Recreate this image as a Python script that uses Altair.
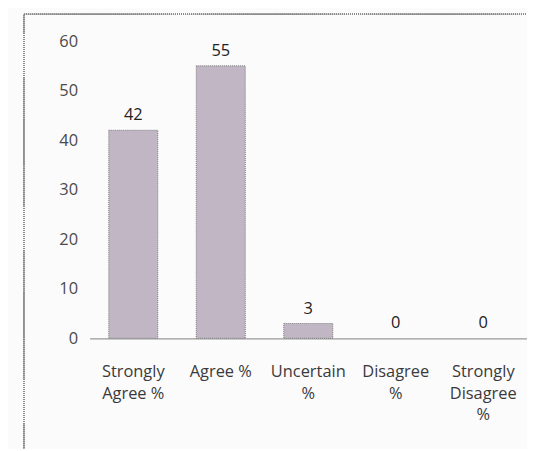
import altair as alt
import pandas as pd

categories = ["Strongly\nAgree %", "Agree %", "Uncertain\n%", "Disagree\n%", "Strongly\nDisagree\n%"]
values = [42, 55, 3, 0, 0]

df = pd.DataFrame({"cat": categories, "val": values})

FONT = "Open Sans"

x = alt.X("cat:N", sort=categories, title=None,
          scale=alt.Scale(paddingInner=0.44, paddingOuter=0.22),
          axis=alt.Axis(labelAngle=0, labelExpr="split(datum.label, '\\n')",
                        labelFont=FONT, labelFontSize=16.5, labelColor="#3a3a3a",
                        labelPadding=25, labelLineHeight=22, ticks=False,
                        domainColor="#9a9a9a", domainWidth=1.2, labelBaseline="top"))
y = alt.Y("val:Q", title=None,
          scale=alt.Scale(domain=[0, 60], nice=False),
          axis=alt.Axis(values=[0, 10, 20, 30, 40, 50, 60], grid=False, domain=False,
                        ticks=False, labelFont=FONT, labelFontSize=16.5,
                        labelColor="#4a4a4a", labelPadding=12))

bars = alt.Chart(df).transform_filter("datum.val > 0").mark_bar(
    color="#c1b6c4", stroke="#7a7a7a", strokeWidth=1, strokeDash=[1, 1]
).encode(x=x, y=y)
labels = alt.Chart(df).mark_text(font=FONT, fontSize=16.5, color="#222222",
                                 baseline="bottom", dy=-7).encode(
    x=alt.X("cat:N", sort=categories), y="val:Q", text="val:Q")

border = alt.Chart(df).mark_rect(fill=None, stroke="#8a8a8a", strokeWidth=1.5,
                                 strokeDash=[1, 1]).encode(
    x=alt.value(-66), x2=alt.value(600), y=alt.value(-27), y2=alt.value(600))

chart = alt.layer(border, bars, labels).properties(
    width=440, height=299,
    autosize=alt.AutoSizeParams(type="none"),
    padding={"left": 82, "top": 32, "right": 0, "bottom": 110},
    background="#fcfbfc",
).configure_view(stroke=None)

chart.save("out.html", embed_options={"renderer": "svg", "actions": False})
